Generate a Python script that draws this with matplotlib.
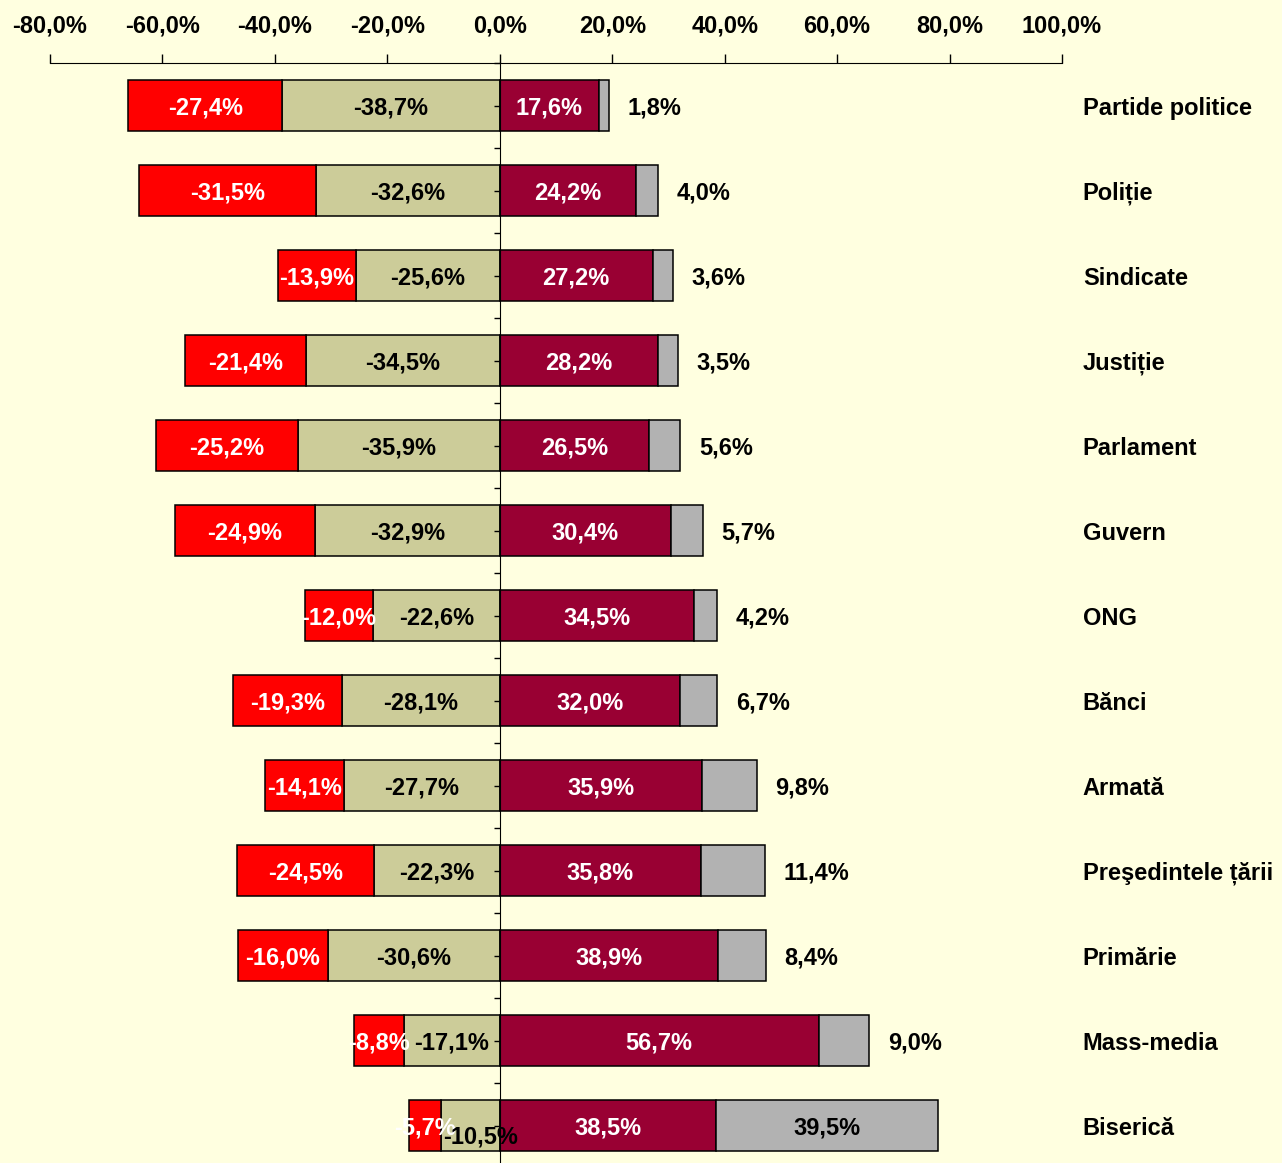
import matplotlib.pyplot as plt
from matplotlib.ticker import FixedLocator, FuncFormatter

plt.rcParams['font.family'] = ['Liberation Sans', 'DejaVu Sans']
plt.rcParams['font.weight'] = 'bold'

categories = ['Partide politice', 'Poliție', 'Sindicate', 'Justiție', 'Parlament', 'Guvern',
              'ONG', 'Bănci', 'Armată', 'Preşedintele țării', 'Primărie', 'Mass-media', 'Biserică']
deloc = [27.4, 31.5, 13.9, 21.4, 25.2, 24.9, 12.0, 19.3, 14.1, 24.5, 16.0, 8.8, 5.7]
putina = [38.7, 32.6, 25.6, 34.5, 35.9, 32.9, 22.6, 28.1, 27.7, 22.3, 30.6, 17.1, 10.5]
multa = [17.6, 24.2, 27.2, 28.2, 26.5, 30.4, 34.5, 32.0, 35.9, 35.8, 38.9, 56.7, 38.5]
foarte = [1.8, 4.0, 3.6, 3.5, 5.6, 5.7, 4.2, 6.7, 9.8, 11.4, 8.4, 9.0, 39.5]
x_ticks = [-80, -60, -40, -20, 0, 20, 40, 60, 80, 100]

bg = '#FFFFE0'
c_red = '#FF0000'
c_khaki = '#CCCC99'
c_maroon = '#990033'
c_gray = '#B2B2B2'

def fmt(v):
    return f'{v:.1f}%'.replace('.', ',')

fig = plt.figure(figsize=(12.82, 11.63), dpi=100, facecolor=bg)
ax = fig.add_axes([50 / 1282, 0, 1012 / 1282, 1100 / 1163])
ax.set_facecolor(bg)

y = list(range(len(categories)))
h = 0.59
kw = dict(height=h, edgecolor='black', linewidth=1.1)
ax.barh(y, [-p for p in putina], color=c_khaki, **kw)
ax.barh(y, [-d for d in deloc], left=[-p for p in putina], color=c_red, **kw)
ax.barh(y, multa, color=c_maroon, **kw)
ax.barh(y, foarte, left=multa, color=c_gray, **kw)

fs = 17
for i in y:
    p, d, m, f = putina[i], deloc[i], multa[i], foarte[i]
    yt = i + 0.03
    ax.text(-p - d / 2, yt, fmt(-d), ha='center', va='center', color='white', fontsize=fs, fontweight='bold')
    # small khaki segments: Excel pushed the label a bit lower/right
    if p < 12:
        ax.text(-p / 2 + 1.8, yt + 0.1, fmt(-p), ha='center', va='center', color='black', fontsize=fs, fontweight='bold')
    else:
        ax.text(-p / 2, yt, fmt(-p), ha='center', va='center', color='black', fontsize=fs, fontweight='bold')
    ax.text(m / 2, yt, fmt(m), ha='center', va='center', color='white', fontsize=fs, fontweight='bold')
    if f > 20:
        ax.text(m + f / 2, yt, fmt(f), ha='center', va='center', color='black', fontsize=fs, fontweight='bold')
    else:
        ax.text(m + f + 3.3, yt, fmt(f), ha='left', va='center', color='black', fontsize=fs, fontweight='bold')
    ax.text(103.7, yt, categories[i], ha='left', va='center', color='black', fontsize=fs,
            fontweight='bold', clip_on=False)

ax.set_xlim(-80, 100)
ax.set_ylim(len(categories) - 0.5 + (1100 / 85 - len(categories)), -0.5)

ax.xaxis.set_ticks_position('top')
ax.xaxis.set_major_locator(FixedLocator(x_ticks))
ax.xaxis.set_major_formatter(FuncFormatter(lambda v, pos: fmt(v)))
ax.tick_params(axis='x', direction='out', length=6.5, width=1, pad=12, labelsize=fs)
for lab in ax.get_xticklabels():
    lab.set_fontweight('bold')

ax.spines['left'].set_position(('data', 0))
ax.spines['left'].set_zorder(5)
ax.yaxis.set_major_locator(FixedLocator([i - 0.5 for i in range(len(categories) + 1)]))
ax.yaxis.set_minor_locator(FixedLocator(y))
ax.yaxis.set_major_formatter(FuncFormatter(lambda v, pos: ''))
ax.tick_params(axis='y', which='both', direction='out', length=4, width=1, left=True, labelleft=False)

for s in ['right', 'bottom']:
    ax.spines[s].set_visible(False)

fig.savefig('out.png', dpi=100, facecolor=bg)
